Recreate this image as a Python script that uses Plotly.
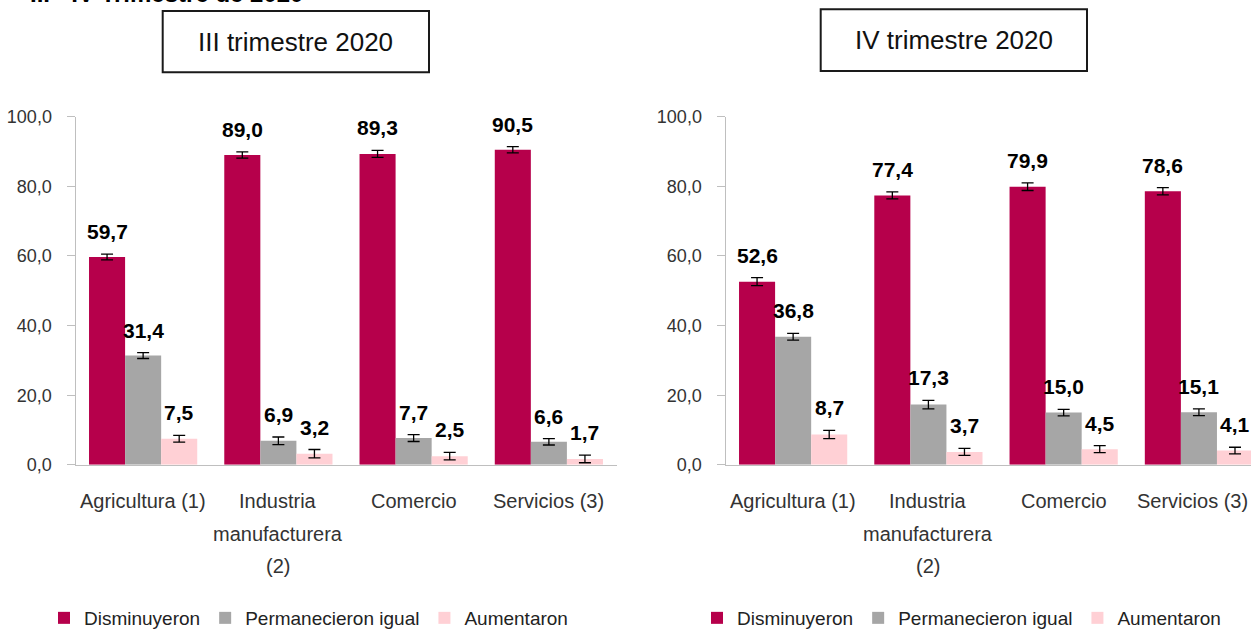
import plotly.graph_objects as go

categories = ["Agricultura (1)", "Industria manufacturera (2)", "Comercio", "Servicios (3)"]
category_lines = [["Agricultura (1)"], ["Industria", "manufacturera", "(2)"], ["Comercio"], ["Servicios (3)"]]
series_names = ["Disminuyeron", "Permanecieron igual", "Aumentaron"]
colors = ["#B6004B", "#A6A6A6", "#FFD0D5"]

# III trimestre 2020
q3_dis = [59.7, 89.0, 89.3, 90.5]
q3_per = [31.4, 6.9, 7.7, 6.6]
q3_aum = [7.5, 3.2, 2.5, 1.7]
q3_dis_err = [0.85, 0.9, 1.0, 0.9]
q3_per_err = [0.85, 1.1, 1.0, 0.9]
q3_aum_err = [0.95, 1.2, 1.1, 1.1]

# IV trimestre 2020
q4_dis = [52.6, 77.4, 79.9, 78.6]
q4_per = [36.8, 17.3, 15.0, 15.1]
q4_aum = [8.7, 3.7, 4.5, 4.1]
q4_dis_err = [1.15, 1.0, 1.1, 1.05]
q4_per_err = [0.95, 1.2, 0.95, 0.95]
q4_aum_err = [1.2, 1.0, 1.0, 0.95]

y_ticks = [0, 20, 40, 60, 80, 100]
panel_titles = ["III trimestre 2020", "IV trimestre 2020"]
main_title = "III - IV Trimestre de 2020"

W, H = 1251, 637
FONT = "Liberation Sans, Arial, sans-serif"

fig = go.Figure()

panels = [
    dict(vals=[q3_dis, q3_per, q3_aum], errs=[q3_dis_err, q3_per_err, q3_aum_err], xa="x", ya="y",
         leg="legend", right_edge=False),
    dict(vals=[q4_dis, q4_per, q4_aum], errs=[q4_dis_err, q4_per_err, q4_aum_err], xa="x2", ya="y2",
         leg="legend2", right_edge=True),
]


def px_x(v):
    return v / W


def px_y(v):
    return 1 - v / H


bargap = 0.2
bw = (1 - bargap) / 3
annotations = []
for p in panels:
    for i, (name, col, v, e) in enumerate(zip(series_names, colors, p["vals"], p["errs"])):
        fig.add_trace(go.Bar(
            x=categories, y=v, name=name, marker=dict(color=col, line=dict(width=0)),
            error_y=dict(type="data", array=e, visible=True, color="#000000", thickness=1.3, width=6),
            xaxis=p["xa"], yaxis=p["ya"], legend=p["leg"], hoverinfo="skip",
        ))
        for j, (val, err) in enumerate(zip(v, e)):
            annotations.append(dict(
                x=j + (i - 1) * bw, y=val + err, xref=p["xa"], yref=p["ya"],
                text=f"{val:.1f}".replace(".", ","), showarrow=False,
                xanchor="center", yanchor="bottom", yshift=9,
                font=dict(family=FONT, size=21, color="#000000", weight="bold"),
            ))
    # category labels (multi-line, Excel-like spacing; last right label kept inside the edge)
    for j, lines in enumerate(category_lines):
        last = p["right_edge"] and j == len(category_lines) - 1
        for k, line in enumerate(lines):
            annotations.append(dict(
                x=1.0 if last else j, xref="paper" if last else p["xa"],
                xanchor="right" if last else "center", xshift=-1 if last else 0,
                y=px_y(506.5 + 33 * k), yref="paper",
                text=line, showarrow=False, yanchor="middle",
                font=dict(family=FONT, size=20, color="#333333"),
            ))

y_dom = [px_y(470), px_y(118)]
axis_common = dict(showline=True, linecolor="#BFBFBF", linewidth=1, showgrid=False, zeroline=False, automargin=False)
ytick_font = dict(family=FONT, size=18, color="#333333")

fig.update_layout(
    template="none",
    width=W, height=H,
    margin=dict(l=0, r=0, t=0, b=0),
    paper_bgcolor="white", plot_bgcolor="white",
    barmode="group", bargap=bargap, bargroupgap=0,
    separators=",.",
    showlegend=True,
    xaxis=dict(domain=[px_x(75.5), px_x(616.5)], ticks="", showticklabels=False, range=[-0.5, 3.5],
               type="category", **axis_common),
    xaxis2=dict(domain=[px_x(725.5), 1.0], ticks="", showticklabels=False, range=[-0.5, 3.385],
                type="category", **axis_common),
    yaxis=dict(domain=y_dom, range=[0, 100], tickvals=y_ticks, tickformat=".1f",
               ticks="outside", ticklen=8, tickcolor="#BFBFBF", ticklabelstandoff=11,
               tickfont=ytick_font, anchor="x", **axis_common),
    yaxis2=dict(domain=y_dom, range=[0, 100], tickvals=y_ticks, tickformat=".1f",
                ticks="outside", ticklen=8, tickcolor="#BFBFBF", ticklabelstandoff=11,
                tickfont=ytick_font, anchor="x2", **axis_common),
    legend=dict(orientation="h", x=px_x(44), y=px_y(625), xanchor="left", yanchor="middle",
                font=dict(family=FONT, size=19, color="#222222"), bgcolor="rgba(0,0,0,0)"),
    legend2=dict(orientation="h", x=px_x(697), y=px_y(625), xanchor="left", yanchor="middle",
                 font=dict(family=FONT, size=19, color="#222222"), bgcolor="rgba(0,0,0,0)"),
)

# panel title boxes
boxes = [(162.7, 429, 11, 73), (820.7, 1087, 9.3, 71.7)]
for (x0, x1, y0, y1), t in zip(boxes, panel_titles):
    fig.add_shape(type="rect", xref="paper", yref="paper", x0=px_x(x0), x1=px_x(x1), y0=px_y(y1), y1=px_y(y0),
                  line=dict(color="#1a1a1a", width=2), fillcolor="white", layer="below")
    annotations.append(dict(x=px_x((x0 + x1) / 2), y=px_y((y0 + y1) / 2), xref="paper", yref="paper",
                            text=t, showarrow=False, xanchor="center", yanchor="middle",
                            font=dict(family=FONT, size=26, color="#111111")))

# partially visible main title at the top edge (cut off in the reference too)
annotations.append(dict(x=px_x(305), y=1, xref="paper", yref="paper", text=main_title,
                        showarrow=False, xanchor="right", yanchor="bottom", yshift=-9,
                        font=dict(family=FONT, size=24, color="#000000", weight="bold")))

fig.update_layout(annotations=annotations)
page_fix = (
    "document.documentElement.style.margin='0px';"
    "document.documentElement.style.padding='0px';"
    "document.documentElement.style.overflow='hidden';"
    "document.body.style.margin='0px';"
    "document.body.style.padding='0px';"
    "document.body.style.overflow='hidden';"
    "document.body.style.height='637px';"
)
fig.write_html("out.html", config={"displayModeBar": False}, post_script=page_fix)
